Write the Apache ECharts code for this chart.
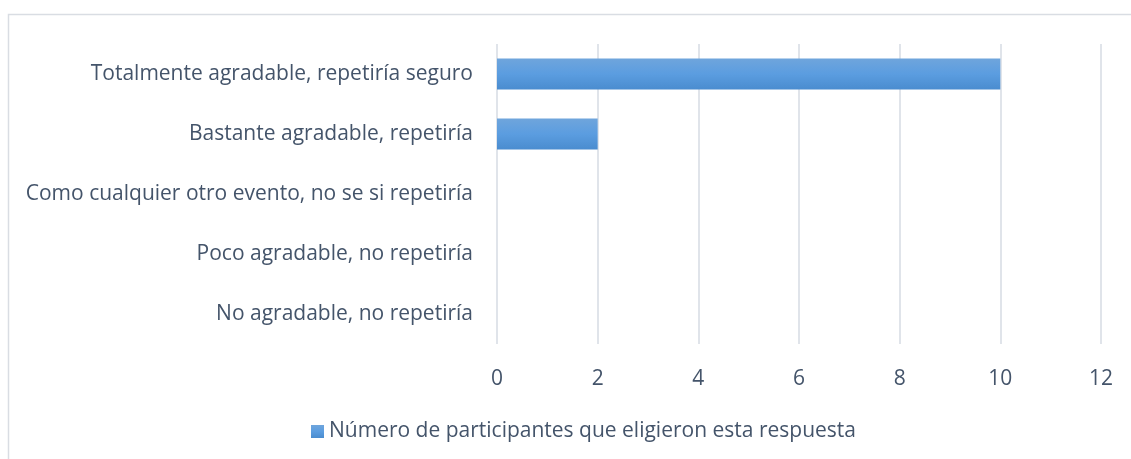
<!DOCTYPE html>
<html>
<head>
<meta charset="utf-8">
<script src="https://cdn.jsdelivr.net/npm/echarts@6/dist/echarts.min.js"></script>
<style>
  html, body { margin: 0; padding: 0; background: #fff; }
  #chart { width: 1131px; height: 459px; }
</style>
</head>
<body>
<div id="chart"></div>
<script>
const categories = [
  'Totalmente agradable, repetiría seguro',
  'Bastante agradable, repetiría',
  'Como cualquier otro evento, no se si repetiría',
  'Poco agradable, no repetiría',
  'No agradable, no repetiría'
];
const participants = [10, 2, 0, 0, 0];
const seriesName = 'Número de participantes que eligieron esta respuesta';

const FONT = '"Open Sans", sans-serif';
const TEXT = '#44546a';

const chart = echarts.init(document.getElementById('chart'));
chart.setOption({
  animation: false,
  graphic: [{
    type: 'rect',
    shape: { x: 8.5, y: 14.5, width: 1200, height: 500 },
    style: { fill: 'none', stroke: '#d9dde3', lineWidth: 1.5 },
    silent: true
  }],
  grid: { left: 497, right: 30, top: 44, height: 300 },
  xAxis: {
    type: 'value',
    min: 0, max: 12, interval: 2,
    axisLine: { show: false },
    axisTick: { show: false },
    splitLine: { lineStyle: { color: '#e0e4ea', width: 2 } },
    axisLabel: { color: TEXT, fontFamily: FONT, fontSize: 21, margin: 25 }
  },
  yAxis: {
    type: 'category',
    inverse: true,
    data: categories,
    axisLine: { show: false },
    axisTick: { show: false },
    axisLabel: { color: TEXT, fontFamily: FONT, fontSize: 21, margin: 24 }
  },
  legend: {
    bottom: 12,
    left: 306,
    icon: 'rect',
    itemWidth: 13, itemHeight: 13,
    itemGap: 6,
    textStyle: { color: TEXT, fontFamily: FONT, fontSize: 21 },
    data: [seriesName]
  },
  series: [{
    name: seriesName,
    type: 'bar',
    data: participants,
    barWidth: 31,
    itemStyle: {
      color: new echarts.graphic.LinearGradient(0, 0, 0, 1, [
        { offset: 0, color: '#6fa5dc' },
        { offset: 0.5, color: '#5b9de0' },
        { offset: 1, color: '#4a8ccf' }
      ])
    }
  }]
});
</script>
</body>
</html>
